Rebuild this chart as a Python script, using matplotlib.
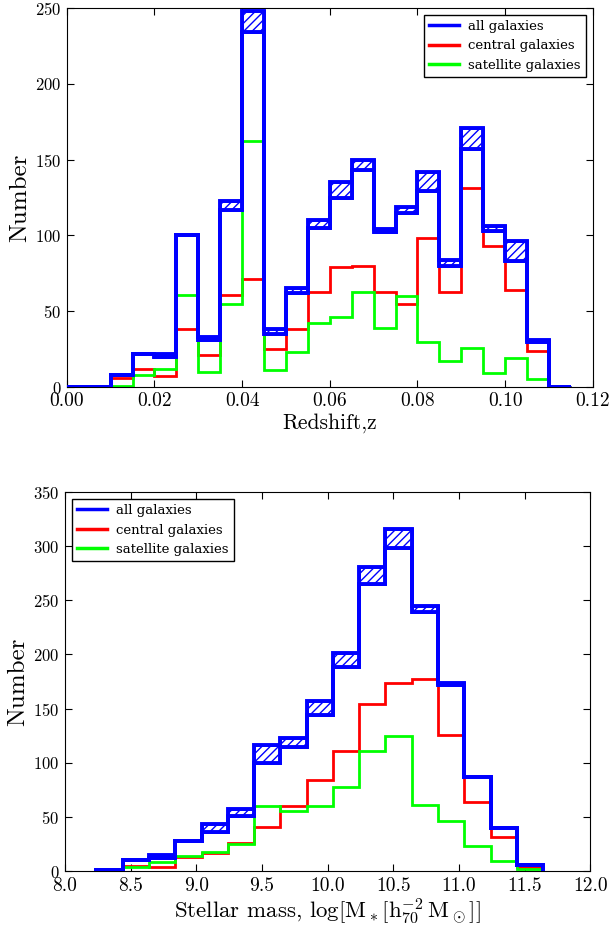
import numpy as np
import matplotlib
matplotlib.use('Agg')
import matplotlib.pyplot as plt

plt.rcParams['font.family'] = ['cmr10', 'DejaVu Serif']
plt.rcParams['mathtext.fontset'] = 'cm'
plt.rcParams['axes.formatter.use_mathtext'] = True
plt.rcParams['hatch.linewidth'] = 1.0

# Redshift histograms (bin width 0.005)
z_edges = np.round(np.arange(0.0, 0.1151, 0.005), 3)
z_all_lo = [0, 0, 8, 22, 20, 100, 31, 117, 234, 35, 62, 105, 125, 143, 102, 115, 129, 80, 157, 103, 83, 30, 0]
z_all_hi = [0, 0, 8, 22, 22, 100, 33, 123, 248, 38, 65, 110, 135, 150, 104, 119, 142, 84, 171, 106, 96, 31, 0]
z_cen = [0, 0, 6, 12, 7, 38, 21, 61, 71, 25, 38, 63, 79, 80, 63, 55, 98, 63, 131, 93, 64, 24, 0]
z_sat = [0, 0, 1, 8, 12, 61, 10, 55, 162, 11, 23, 42, 46, 63, 39, 60, 30, 17, 26, 9, 19, 5, 0]

# Stellar mass histograms (bin width 0.2 dex)
m_edges = np.round(np.arange(8.24, 11.65, 0.2), 2)
m_all_lo = [1, 10, 12, 28, 36, 51, 100, 115, 144, 188, 265, 298, 239, 172, 87, 40, 6]
m_all_hi = [1, 10, 15, 28, 43, 57, 116, 123, 157, 201, 281, 316, 245, 174, 87, 40, 6]
m_cen = [0, 5, 4, 13, 17, 26, 41, 60, 84, 111, 154, 174, 177, 126, 64, 31, 4]
m_sat = [0, 4, 8, 14, 18, 25, 60, 55, 60, 78, 111, 125, 61, 46, 23, 9, 2]


def draw_panel(ax, edges, lo, hi, cen, sat, legend_loc):
    lo = np.array(lo)
    hi = np.array(hi)
    widths = np.diff(edges)
    ax.bar(edges[:-1], hi - lo, width=widths, bottom=lo, align='edge',
           facecolor='white', edgecolor='blue', hatch='////', linewidth=2.0, zorder=3)
    ax.stairs(lo, edges, color='blue', linewidth=2.8, zorder=4)
    ax.stairs(hi, edges, color='blue', linewidth=2.8, zorder=4, label='all galaxies')
    ax.stairs(cen, edges, color='red', linewidth=2, zorder=2, label='central galaxies')
    ax.stairs(sat, edges, color='lime', linewidth=2, zorder=2, label='satellite galaxies')
    ax.tick_params(direction='in', top=True, right=True, length=5, pad=4)
    ax.tick_params(axis='x', labelsize=14)
    ax.tick_params(axis='y', labelsize=12)
    ax.set_ylabel('Number', fontsize=18, labelpad=3)
    leg = ax.legend(loc=legend_loc, prop={'family': 'DejaVu Serif', 'size': 9.5},
                    fancybox=False, edgecolor='black', framealpha=1,
                    handlelength=2.3, handletextpad=0.7, borderaxespad=0.5)
    leg.get_frame().set_linewidth(1.0)
    for h in leg.legend_handles:
        h.set_linewidth(2.5)


fig = plt.figure(figsize=(6.13, 9.31), dpi=100)

ax1 = fig.add_axes([0.109, 0.5843, 0.858, 0.4071])
draw_panel(ax1, z_edges, z_all_lo, z_all_hi, z_cen, z_sat, 'upper right')
ax1.set_xlim(0, 0.12)
ax1.set_ylim(0, 250)
ax1.set_xticks(np.arange(0, 0.121, 0.02))
ax1.set_xticklabels(['0.00', '0.02', '0.04', '0.06', '0.08', '0.10', '0.12'])
ax1.set_xlabel('Redshift,z', fontsize=15.5, labelpad=2)

ax2 = fig.add_axes([0.106, 0.0644, 0.857, 0.4071])
draw_panel(ax2, m_edges, m_all_lo, m_all_hi, m_cen, m_sat, 'upper left')
ax2.set_xlim(8.0, 12.0)
ax2.set_ylim(0, 350)
ax2.set_xticks(np.arange(8.0, 12.01, 0.5))
ax2.set_xticklabels(['%.1f' % v for v in np.arange(8.0, 12.01, 0.5)])
ax2.set_xlabel(r'Stellar mass, $\log[\mathrm{M}_*[\mathrm{h}_{70}^{-2}\,\mathrm{M}_\odot]]$',
               fontsize=16.5, labelpad=2)

fig.savefig('out.png', dpi=100)
